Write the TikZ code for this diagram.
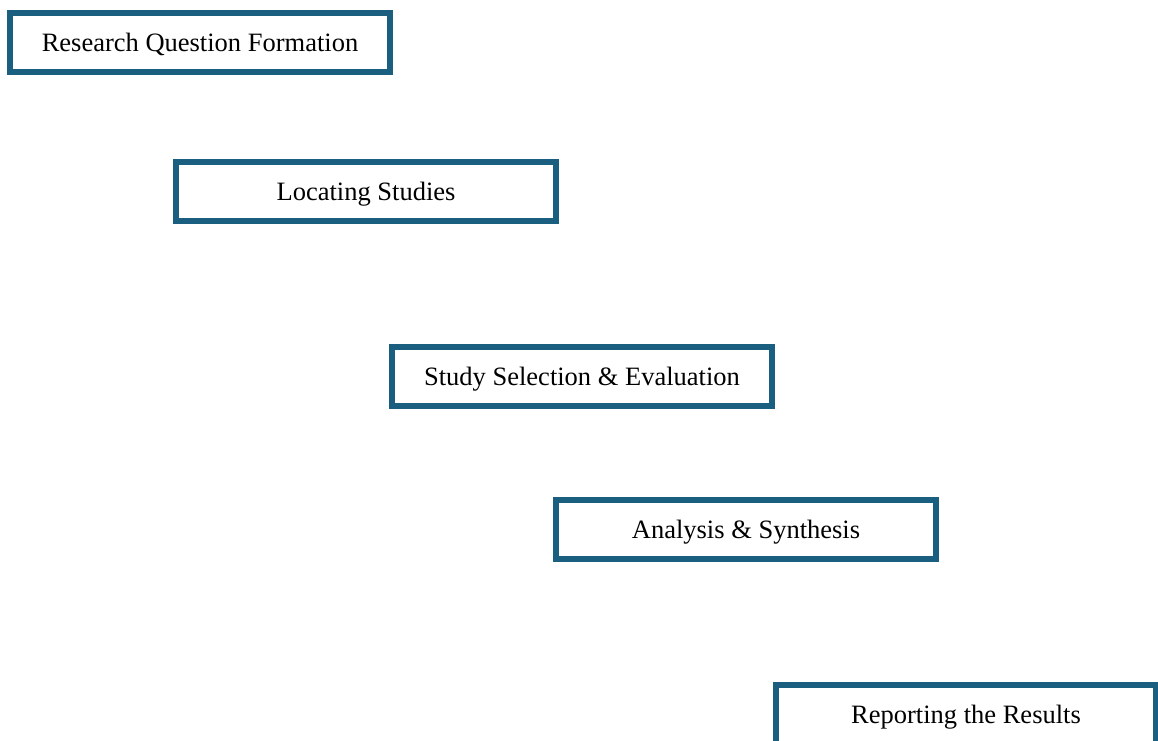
\documentclass[tikz,border=0pt]{standalone}
\usepackage{fontspec}
\setmainfont{Liberation Serif}
\definecolor{boxblue}{HTML}{1A5F80}
\begin{document}
\begin{tikzpicture}[x=1pt,y=-1pt,
  stepbox/.style={draw=boxblue, line width=6pt, fill=white, minimum width=380pt, minimum height=59pt, inner sep=0pt, text depth=0pt, font=\fontsize{26.5}{30}\selectfont}]
\useasboundingbox (0,0) rectangle (1158,740);
\node[stepbox] (rq) at (200,42.5) {Research Question Formation};
\node[stepbox] (ls) at (366,191) {Locating Studies};
\node[stepbox] (ss) at (582,376.5) {Study Selection \& Evaluation};
\node[stepbox] (as) at (746,529.5) {Analysis \& Synthesis};
\node[stepbox] (rr) at (966,714.5) {Reporting the Results};
\end{tikzpicture}
\end{document}
